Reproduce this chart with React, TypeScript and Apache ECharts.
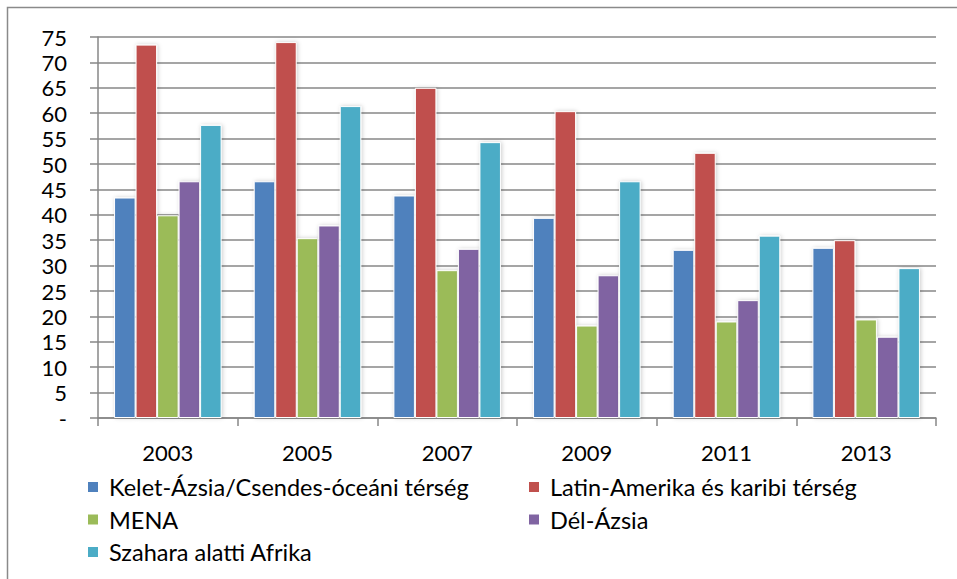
import React, { useEffect, useRef } from "react";
import * as echarts from "echarts";

const years = ["2003", "2005", "2007", "2009", "2011", "2013"];

const seriesNames = [
  "Kelet-Ázsia/Csendes-óceáni térség",
  "Latin-Amerika és karibi térség",
  "MENA",
  "Dél-Ázsia",
  "Szahara alatti Afrika",
];

const keletAzsia = [43.4, 46.6, 43.8, 39.4, 33.1, 33.5];
const latinAmerika = [73.5, 74.0, 65.0, 60.4, 52.2, 35.0];
const mena = [39.9, 35.4, 29.1, 18.2, 19.0, 19.4];
const delAzsia = [46.6, 37.9, 33.3, 28.1, 23.2, 16.0];
const szahara = [57.7, 61.4, 54.3, 46.6, 35.9, 29.5];

const seriesValues = [keletAzsia, latinAmerika, mena, delAzsia, szahara];
const colors = ["#4F81BD", "#C0504D", "#9BBB59", "#8064A2", "#4BACC6"];

const FONT = "Lato, 'Open Sans', sans-serif";
const GRID_GRAY = "#878787";

export default function App() {
  const ref = useRef<HTMLDivElement>(null);

  useEffect(() => {
    if (!ref.current) return;
    const chart = echarts.init(ref.current, undefined, { renderer: "svg" });

    const legendText = {
      fontFamily: FONT,
      fontSize: 23.5,
      color: "#000",
      padding: [0, 0, 0, 5],
    };

    chart.setOption({
      animation: false,
      backgroundColor: "#fff",
      textStyle: { fontFamily: FONT },
      grid: { left: 98, top: 37, right: 21, bottom: 161 },
      graphic: [
        {
          type: "rect",
          shape: { x: 7.5, y: 7.5, width: 1000, height: 1000 },
          style: { fill: "none", stroke: "#8a8a8a", lineWidth: 1.5 },
          silent: true,
        },
      ],
      legend: [
        {
          orient: "vertical",
          left: 81,
          top: 470,
          itemWidth: 12,
          itemHeight: 12,
          itemGap: 8.5,
          icon: "rect",
          data: [seriesNames[0], seriesNames[2], seriesNames[4]],
          textStyle: legendText,
        },
        {
          orient: "vertical",
          left: 522,
          top: 470,
          itemWidth: 12,
          itemHeight: 12,
          itemGap: 8.5,
          icon: "rect",
          data: [seriesNames[1], seriesNames[3]],
          textStyle: legendText,
        },
      ],
      xAxis: {
        type: "category",
        data: years,
        boundaryGap: true,
        axisLine: { show: true, lineStyle: { color: GRID_GRAY, width: 1.5 } },
        axisTick: {
          show: true,
          alignWithLabel: false,
          length: 8,
          lineStyle: { color: GRID_GRAY, width: 1.5 },
        },
        axisLabel: {
          margin: 23,
          fontFamily: FONT,
          fontSize: 22,
          color: "#000",
        },
        splitLine: { show: false },
      },
      yAxis: {
        type: "value",
        min: 0,
        max: 75,
        interval: 5,
        axisLine: { show: true, lineStyle: { color: GRID_GRAY, width: 1.5 } },
        axisTick: {
          show: true,
          length: 8,
          lineStyle: { color: GRID_GRAY, width: 1.5 },
        },
        axisLabel: {
          margin: 31,
          fontFamily: FONT,
          fontSize: 22,
          color: "#000",
          formatter: (v: number) => (v === 0 ? "-" : String(v)),
        },
        splitLine: { show: true, lineStyle: { color: GRID_GRAY, width: 1.5 } },
      },
      series: seriesNames.map((name, i) => ({
        name,
        type: "bar",
        data: seriesValues[i],
        barGap: "0%",
        barCategoryGap: "23%",
        itemStyle: {
          color: colors[i],
          borderColor: "#fff",
          borderWidth: 1,
          shadowBlur: 4,
          shadowColor: "rgba(0,0,0,0.2)",
          shadowOffsetX: 1,
          shadowOffsetY: 0,
        },
      })),
    });

    return () => chart.dispose();
  }, []);

  return (
    <div
      ref={ref}
      style={{ position: "absolute", left: 0, top: 0, width: 957, height: 579 }}
    />
  );
}
